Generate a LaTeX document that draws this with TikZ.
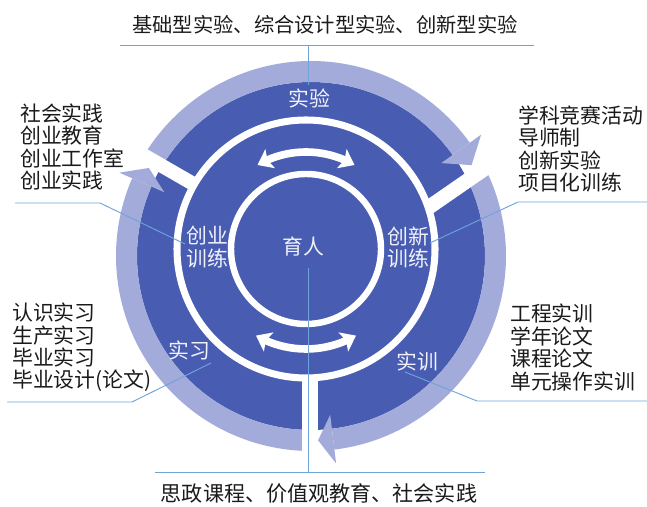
\documentclass[tikz,border=0pt]{standalone}
\usepackage{fontspec}
\newfontfamily\cjkfont{Noto Sans CJK SC}
\usetikzlibrary{arrows.meta,bending}
\definecolor{darkb}{HTML}{485CB2}
\definecolor{lightb}{HTML}{A3ABDA}
\definecolor{leadc}{HTML}{6FA3DC}
\definecolor{txtc}{HTML}{1A1A1A}
\definecolor{lblc}{HTML}{F0F2FA}
\begin{document}
\begin{tikzpicture}[x=0.03cm,y=0.03cm,
 listtxt/.style={font=\cjkfont\fontsize{17.8}{19.1}\selectfont,text=txtc,align=left,anchor=west,inner sep=0pt},
 headtxt/.style={font=\cjkfont\fontsize{17.3}{19}\selectfont,text=txtc,inner sep=0pt},
 lbltxt/.style={font=\cjkfont\fontsize{17.8}{19.5}\selectfont,text=lblc,align=center,inner sep=0pt},
 leadline/.style={draw=leadc,line width=0.8pt},
 gapband/.style={draw=white,line width=12.5pt},
 whitering/.style={draw=white,line width=6pt},
 arcbody/.style={fill=lightb},
 dblarrow/.style={draw=white,line width=6.5pt,{Stealth[length=12pt,width=18pt,inset=2.5pt]}-{Stealth[length=12pt,width=18pt,inset=2.5pt]}}
]
\useasboundingbox (0,0) rectangle (647,506);
\coordinate (O) at (311,250);
\coordinate (I) at (306,257);
% dark disk
\fill[darkb] (O) circle[radius=174];
% light arc bodies
\begin{scope}[shift={(O)}]
 \fill[arcbody] (149:174) arc[start angle=149,end angle=35.5,radius=174] -- (35.5:195) arc[start angle=35.5,end angle=149,radius=195] -- cycle;
 \fill[arcbody] (27:174) arc[start angle=27,end angle=-83.1,radius=174] -- (-83.1:195) arc[start angle=-83.1,end angle=27,radius=195] -- cycle;
 \fill[arcbody] (270:174) arc[start angle=270,end angle=156.5,radius=174] -- (156.5:195) arc[start angle=156.5,end angle=270,radius=195] -- cycle;
\end{scope}
% white gaps
\begin{scope}[shift={(I)}]
 \draw[gapband,line width=12pt] (150:128) -- (150:228);
\end{scope}
\draw[gapband,line width=13.5pt] (310,130) -- (310,28);
\draw[gapband] (429.1,298.9) -- (503,350);
% arrow heads
\begin{scope}[shift={(O)}]
 \fill[arcbody] (35.5:160) -- (29.5:184.5) -- (35.5:209) -- cycle;
 \fill[arcbody] (-83.1:160) -- (-87.8:184.5) -- (-83.1:209) -- cycle;
 \fill[arcbody] (156.5:160) -- (151.5:184.5) -- (156.5:209) -- cycle;
\end{scope}
% white rings
\draw[whitering] (I) circle[radius=129];
\draw[whitering,line width=5.5pt] (I) circle[radius=75];
% double arrows
\begin{scope}[shift={(I)}]
 \draw[dblarrow] (120:97) arc[start angle=120,end angle=60,radius=97];
 \draw[dblarrow] (240:100) arc[start angle=240,end angle=300,radius=100];
\end{scope}
% labels in the disk
\node[lbltxt] (labSY) at (309,408) {实验};
\node[lbltxt] (labCY) at (207,258.5) {创业\\训练};
\node[lbltxt] (labCX) at (408,258.5) {创新\\训练};
\node[lbltxt] (labYR) at (303,259) {育人};
\node[lbltxt] (labSX) at (189,156) {实习};
\node[lbltxt] (labSXN) at (417,145) {实训};
% outer texts
\node[headtxt] (topT) at (325,481) {基础型实验、综合设计型实验、创新型实验};
\node[headtxt,font=\cjkfont\fontsize{18}{19}\selectfont] (botT) at (319,13) {思政课程、价值观教育、社会实践};
\node[listtxt] (listLT) at (20,359) {社会实践\\创业教育\\创业工作室\\创业实践};
\node[listtxt] (listRT) at (518,357) {学科竞赛活动\\导师制\\创新实验\\项目化训练};
\node[listtxt] (listLB) at (12,158.5) {认识实习\\生产实习\\毕业实习\\毕业设计(论文)};
\node[listtxt] (listRB) at (510,158.5) {工程实训\\学年论文\\课程论文\\单元操作实训};
% leader lines
\coordinate (topA) at (120,461); \coordinate (topB) at (534,461);
\coordinate (topM) at (308,461); \coordinate (topE) at (308,421);
\draw[leadline] (topA) -- (topB);
\draw[leadline] (topM) -- (topE);
\coordinate (botA) at (155,34); \coordinate (botB) at (485,34);
\coordinate (botM) at (308,34); \coordinate (botE) at (308,238);
\draw[leadline] (botA) -- (botB);
\draw[leadline] (botM) -- (botE);
\coordinate (ltA) at (15,303); \coordinate (ltB) at (100,303); \coordinate (ltC) at (185,262);
\draw[leadline] (ltA) -- (ltB) -- (ltC);
\coordinate (rtA) at (647,304); \coordinate (rtB) at (518,304); \coordinate (rtC) at (430,263);
\draw[leadline] (rtA) -- (rtB) -- (rtC);
\coordinate (lbA) at (7,104); \coordinate (lbB) at (132,104); \coordinate (lbC) at (211,143);
\draw[leadline] (lbA) -- (lbB) -- (lbC);
\coordinate (rbA) at (647,105); \coordinate (rbB) at (477,105); \coordinate (rbC) at (405,134);
\draw[leadline] (rbA) -- (rbB) -- (rbC);
\end{tikzpicture}
\end{document}
